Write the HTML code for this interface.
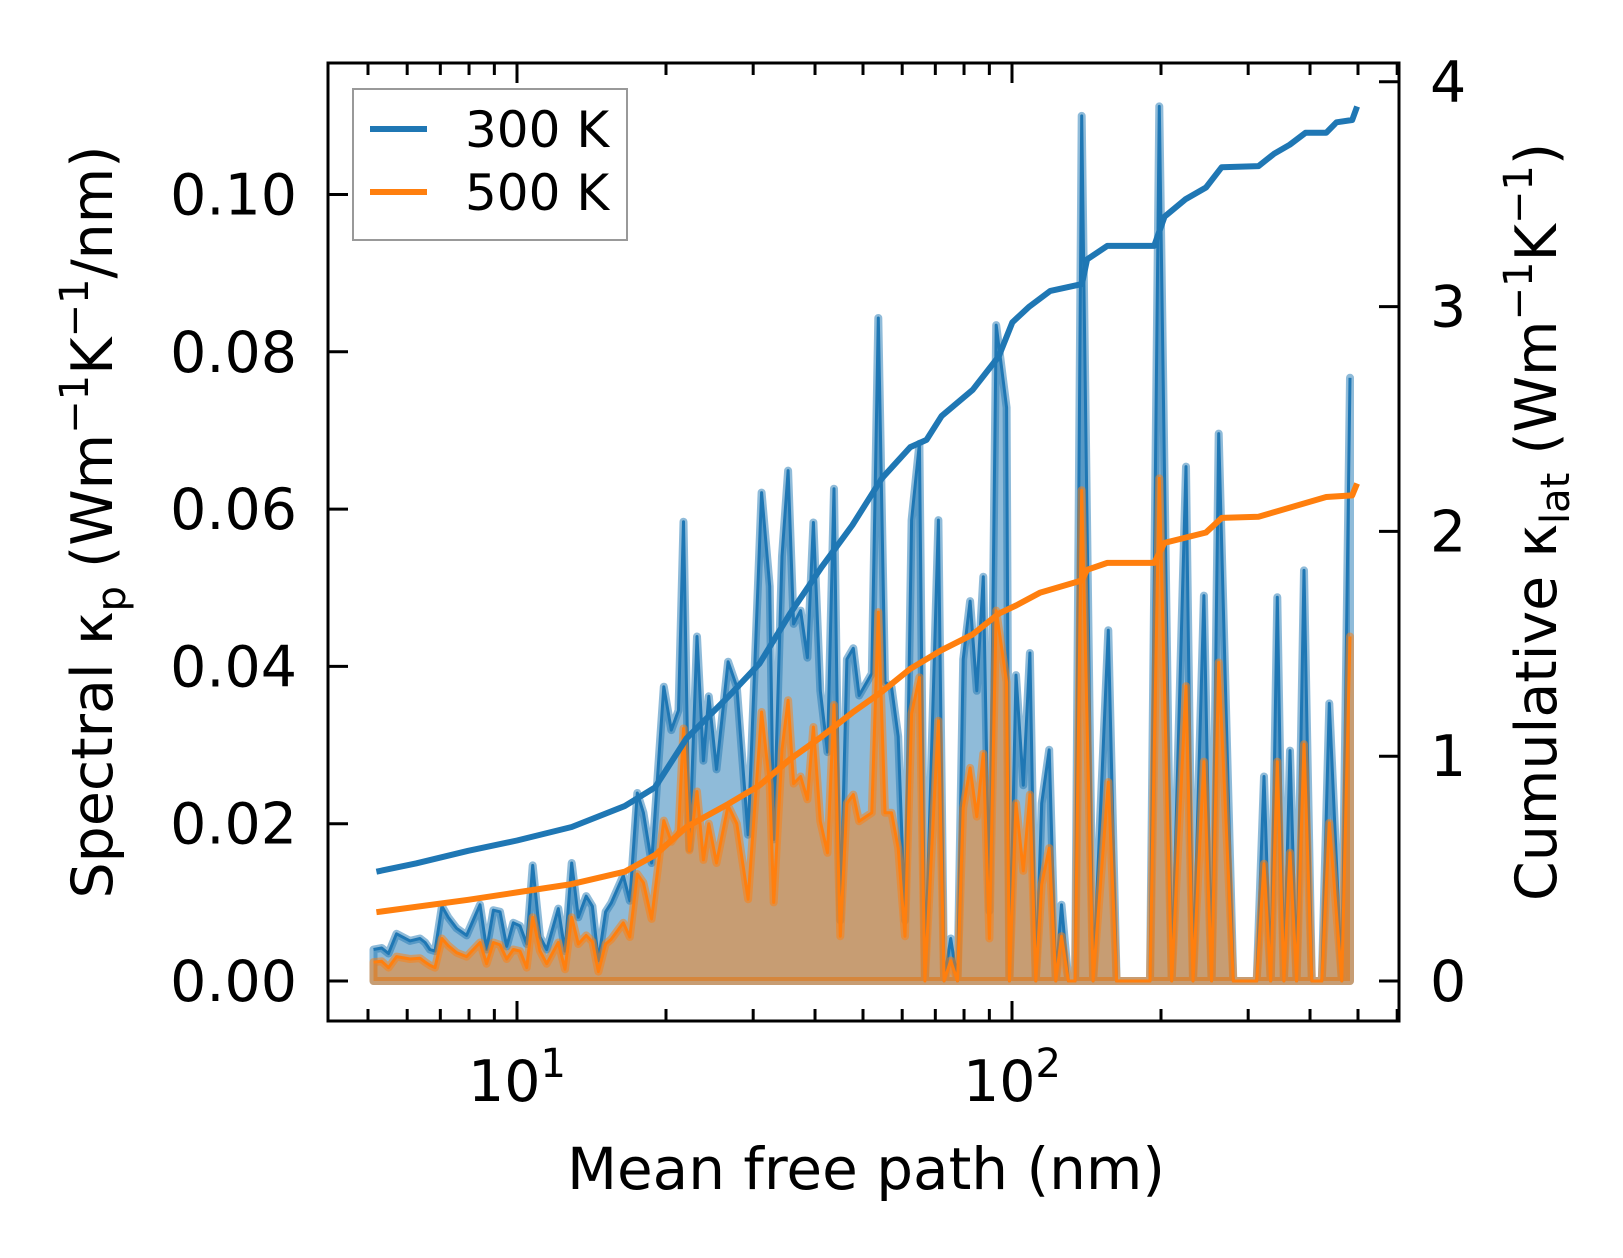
<!DOCTYPE html>
<html><head><meta charset="utf-8">
<style>
html,body{margin:0;padding:0;background:#fff;}
svg{display:block;font-family:"DejaVu Sans","Liberation Sans",sans-serif;}
</style></head>
<body>
<svg id="chart" width="1623" height="1258" viewBox="0 0 1623 1258" xmlns="http://www.w3.org/2000/svg" style="position:absolute;left:0;top:0">
<rect width="1623" height="1258" fill="#fff"/>
<g id="marks"></g>
<g id="axes"></g>
</svg>
<script>
// ---- data ----
const mfp = [5.13,5.33,5.50,5.71,6.08,6.37,6.52,6.67,6.83,7.05,7.26,7.55,7.91,8.42,8.68,8.96,9.24,9.53,9.83,10.14,10.46,10.76,11.13,11.48,12.12,12.5,12.9,13.3,13.8,14.2,14.6,15.1,15.5,16.4,16.9,17.5,18.0,18.7,19.8,20.5,21.2,21.7,22.3,23.1,23.8,24.4,25.3,26.7,27.8,29.3,31.2,32.4,
33.0,34.3,35.3,36.2,37.4,38.6,39.7,41.0,42.4,43.7,45.0,46.4,47.8,49.1,52.1,53.7,55.4,57.1,58.9,60.8,62.7,65.0,66.7,71.0,72.9,75.2,77.6,79.7,82.3,84.9,87.5,90.0,92.9,97.5,98.8,101.9,105.4,108.7,111.7,114.8,118.9,122.6,125.9,130.0,
134.1,138.3,145.8,156.5,162.7,190.0,198.4,210.2,224.7,232.1,244.2,253.1,261.6,279.9,312.1,322.9,333.2,343.6,354.2,364.4,375.8,389.0,403.3,422.5,437.5,463.7,481.8];
// spectral values in units of 1e-3 W m^-1 K^-1 / nm
const spec300 = [4.0,4.2,3.5,6.0,5.1,5.4,4.9,4.0,3.8,9.5,8.1,6.7,5.8,9.7,4.0,9.0,8.8,4.4,7.4,7.0,4.7,14.7,5.6,4.0,9.2,3.8,15.0,8.1,10.8,9.5,2.6,8.8,9.9,13.4,10.2,23.9,21.4,15.0,37.4,31.9,34.4,58.4,16.8,43.8,28.0,36.2,26.9,40.6,37.4,18.6,62.1,50.2,
18.0,54.0,64.9,45.4,47.1,41.1,58.3,36.9,29.1,62.6,7.7,40.9,42.3,36.3,39.1,84.3,38.0,37.4,31.1,7.7,58.6,68.3,0.3,58.6,0,5.4,0,40.9,48.3,36.9,51.4,8.9,83.4,72.9,0,38.9,24.9,41.7,0,22.6,29.4,0,9.7,0,
0,110,0,44.6,0,0,111.2,0,65.4,0,49.0,0,69.6,0,0,26.0,0,48.8,0,29.3,0,52.2,0,0,35.3,0,76.7];
const spec500 = [2.4,2.5,1.7,3.1,2.8,2.9,2.4,2.0,1.7,5.4,4.5,3.6,3.1,4.9,2.2,4.9,4.6,2.8,4.0,3.8,1.7,8.1,3.8,2.2,4.9,1.5,8.1,4.7,5.8,5.0,1.2,4.7,5.3,7.4,5.6,13.6,12.5,7.9,20.4,17.7,19.1,32.1,16.6,24.1,15.4,20.0,15.0,22.3,20.0,10.4,34.2,25.0,
10.0,29.4,35.7,25.1,26.0,23.1,32.3,20.3,16.3,35.1,5.7,22.6,23.7,20.3,21.4,46.9,21.4,21.4,16.9,5.7,34.0,38.6,0,33.1,0,2.6,0,22.0,27.1,20.9,28.9,5.4,47.1,38.0,0,22.6,14.0,23.7,0,12.3,16.9,0,5.7,0,
0,62.4,0,25.3,0,0,63.9,0,37.5,0,27.9,0,40.5,0,0,14.9,0,27.9,0,16.3,0,30.1,0,0,20.1,0,43.8];
const cumMfp300 = [5.20,6.25,7.97,10,12.9,16.5,19.0,22.0,26.7,30.9,35.6,41.3,47.6,54.6,62.3,67.2,72.1,83.3,94.0,100.2,108.4,119.5,138.4,141.8,155.8,193.8,203.3,223.9,246.6,265.2,314.8,338.6,364.1,391.6,431.3,452.4,486.6,497.9];
const cum300 = [0.486,0.523,0.579,0.625,0.685,0.778,0.861,1.079,1.264,1.412,1.634,1.843,2.028,2.236,2.375,2.407,2.514,2.63,2.778,2.93,3.0,3.07,3.10,3.21,3.27,3.27,3.40,3.477,3.53,3.62,3.625,3.68,3.72,3.773,3.773,3.82,3.83,3.89];
const cumMfp500 = [5.20,7.97,10,12.9,16.5,19.0,22.0,26.7,30.9,35.6,41.3,47.6,54.6,62.3,72.1,83.3,94.0,102,113.8,138.4,141.8,155.8,193.8,203.3,246.6,265.2,314.8,364.1,431.3,486.6,497.9];
const cum500 = [0.306,0.361,0.394,0.431,0.486,0.56,0.685,0.787,0.87,0.986,1.088,1.194,1.287,1.389,1.472,1.542,1.634,1.671,1.727,1.782,1.829,1.86,1.86,1.949,1.995,2.06,2.065,2.106,2.153,2.16,2.213];
const yTicksLeft = [0,0.02,0.04,0.06,0.08,0.10];
const yTickLabelsLeft = ["0.00","0.02","0.04","0.06","0.08","0.10"];
const yTicksRight = [0,1,2,3,4];
const xMajor = [10,100];
const xMajorExp = ["1","2"];
const xMinor = [5,6,7,8,9,20,30,40,50,60,70,80,90,200,300,400,500,600];

// ---- axes functions ----
const L=328,R=1399,T=63,B=1021;
const X0=517, DEC=495;
const xs = v => X0 + DEC*(Math.log10(v)-1);
const yl = v => 981 - v*7865;
const yr = v => 981 - v*224.8;
const NS="http://www.w3.org/2000/svg";
function mk(tag, parent){const e=document.createElementNS(NS,tag);parent.appendChild(e);return e;}
const marks=document.getElementById('marks'), axes=document.getElementById('axes');

function areaPath(vals){
  let d='M'+xs(mfp[0]).toFixed(1)+','+yl(0).toFixed(1);
  for(let i=0;i<mfp.length;i++) d+=' L'+xs(mfp[i]).toFixed(1)+','+yl(vals[i]*1e-3).toFixed(1);
  d+=' L'+xs(mfp[mfp.length-1]).toFixed(1)+','+yl(0).toFixed(1)+' Z';
  return d;
}
function linePts(xa, ya, f){return xa.map((v,i)=>xs(v).toFixed(1)+','+f(ya[i]).toFixed(1)).join(' ');}

let a1=mk('path',marks);


a1.setAttribute('d',areaPath(spec300));
a1.setAttribute('fill','#1f77b4');a1.setAttribute('fill-opacity','0.5');
a1.setAttribute('stroke','#1f77b4');a1.setAttribute('stroke-opacity','0.5');a1.setAttribute('stroke-width','8');a1.setAttribute('stroke-linejoin','round');
let l1=mk('polyline',marks);


l1.setAttribute('points',linePts(mfp,spec300,v=>yl(v*1e-3)));
l1.setAttribute('fill','none');l1.setAttribute('stroke','#1f77b4');l1.setAttribute('stroke-width','3');l1.setAttribute('stroke-linejoin','round');
let a2=mk('path',marks);


a2.setAttribute('d',areaPath(spec500));
a2.setAttribute('fill','#ff7f0e');a2.setAttribute('fill-opacity','0.5');
a2.setAttribute('stroke','#ff7f0e');a2.setAttribute('stroke-opacity','0.5');a2.setAttribute('stroke-width','8');a2.setAttribute('stroke-linejoin','round');
let l2=mk('polyline',marks);


l2.setAttribute('points',linePts(mfp,spec500,v=>yl(v*1e-3)));
l2.setAttribute('fill','none');l2.setAttribute('stroke','#ff7f0e');l2.setAttribute('stroke-width','3');l2.setAttribute('stroke-linejoin','round');
let c1=mk('polyline',marks);


c1.setAttribute('points',linePts(cumMfp300,cum300,yr));
c1.setAttribute('fill','none');c1.setAttribute('stroke','#1f77b4');c1.setAttribute('stroke-width','6');c1.setAttribute('stroke-linejoin','round');
let c2=mk('polyline',marks);


c2.setAttribute('points',linePts(cumMfp500,cum500,yr));
c2.setAttribute('fill','none');c2.setAttribute('stroke','#ff7f0e');c2.setAttribute('stroke-width','6');c2.setAttribute('stroke-linejoin','round');

let fr=mk('rect',axes);


fr.setAttribute('x',L);fr.setAttribute('y',T);fr.setAttribute('width',R-L);fr.setAttribute('height',B-T);
fr.setAttribute('fill','none');fr.setAttribute('stroke','#000');fr.setAttribute('stroke-width','3');

function tick(x1,y1,x2,y2,name){
  const t=mk('line',axes);
  
  
  t.setAttribute('x1',x1);t.setAttribute('y1',y1);t.setAttribute('x2',x2);t.setAttribute('y2',y2);
  t.setAttribute('stroke','#000');t.setAttribute('stroke-width','3');
}
function text(x,y,s,anchor,size,name){
  const t=mk('text',axes);
  
  
  t.setAttribute('x',x);t.setAttribute('y',y);t.setAttribute('text-anchor',anchor);t.setAttribute('font-size',size);
  t.textContent=s;return t;
}
yTicksLeft.forEach((v,i)=>{
  const y=yl(v);
  tick(L,y,L+20,y,'y-left-tick');
  text(297,y+20,yTickLabelsLeft[i],'end',57,'y-left-tick-label');
});
yTicksRight.forEach(v=>{
  const y=yr(v);
  tick(R,y,R-20,y,'y-right-tick');
  text(1430,y+20,String(v),'start',57,'y-right-tick-label');
});
xMajor.forEach((v,i)=>{
  const x=xs(v);
  tick(x,B,x,B-20,'x-major-tick');
  tick(x,T,x,T+20,'x-major-tick-top');
  const t=text(x,1101,'10','middle',57,'x-tick-label');
  const sp=document.createElementNS(NS,'tspan');
  sp.setAttribute('dy','-24');sp.setAttribute('font-size','40');
  sp.textContent=xMajorExp[i];t.appendChild(sp);
});
xMinor.forEach(v=>{
  const x=xs(v);
  if(x<L||x>R) return;
  tick(x,B,x,B-12,'x-minor-tick');
  tick(x,T,x,T+12,'x-minor-tick-top');
});
</script>
<svg width="1623" height="1258" style="position:absolute;left:0;top:0" xmlns="http://www.w3.org/2000/svg">
<text x="866" y="1189" text-anchor="middle" font-size="58" font-family="DejaVu Sans, Liberation Sans, sans-serif">Mean free path (nm)</text>
<text transform="translate(112,522) rotate(-90)" text-anchor="middle" font-size="57" font-family="DejaVu Sans, Liberation Sans, sans-serif">Spectral κ<tspan font-size="40" dy="13">p</tspan><tspan dy="-13"> (Wm</tspan><tspan font-size="40" dy="-24">−1</tspan><tspan dy="24">K</tspan><tspan font-size="40" dy="-24">−1</tspan><tspan dy="24">/nm)</tspan></text>
<text transform="translate(1556,522) rotate(-90)" text-anchor="middle" font-size="57" font-family="DejaVu Sans, Liberation Sans, sans-serif">Cumulative κ<tspan font-size="40" dy="13">lat</tspan><tspan dy="-13"> (Wm</tspan><tspan font-size="40" dy="-24">−1</tspan><tspan dy="24">K</tspan><tspan font-size="40" dy="-24">−1</tspan><tspan dy="24">)</tspan></text>
<g>
<rect x="353" y="89" width="274" height="151" fill="#fff" fill-opacity="0.8" stroke="#999" stroke-width="2"/>
<line x1="370" y1="129" x2="427" y2="129" stroke="#1f77b4" stroke-width="6"/>
<text x="465" y="147" font-size="50" font-family="DejaVu Sans, Liberation Sans, sans-serif">300 K</text>
<line x1="370" y1="192" x2="427" y2="192" stroke="#ff7f0e" stroke-width="6"/>
<text x="465" y="210" font-size="50" font-family="DejaVu Sans, Liberation Sans, sans-serif">500 K</text>
</g>
</svg>
</body></html>
